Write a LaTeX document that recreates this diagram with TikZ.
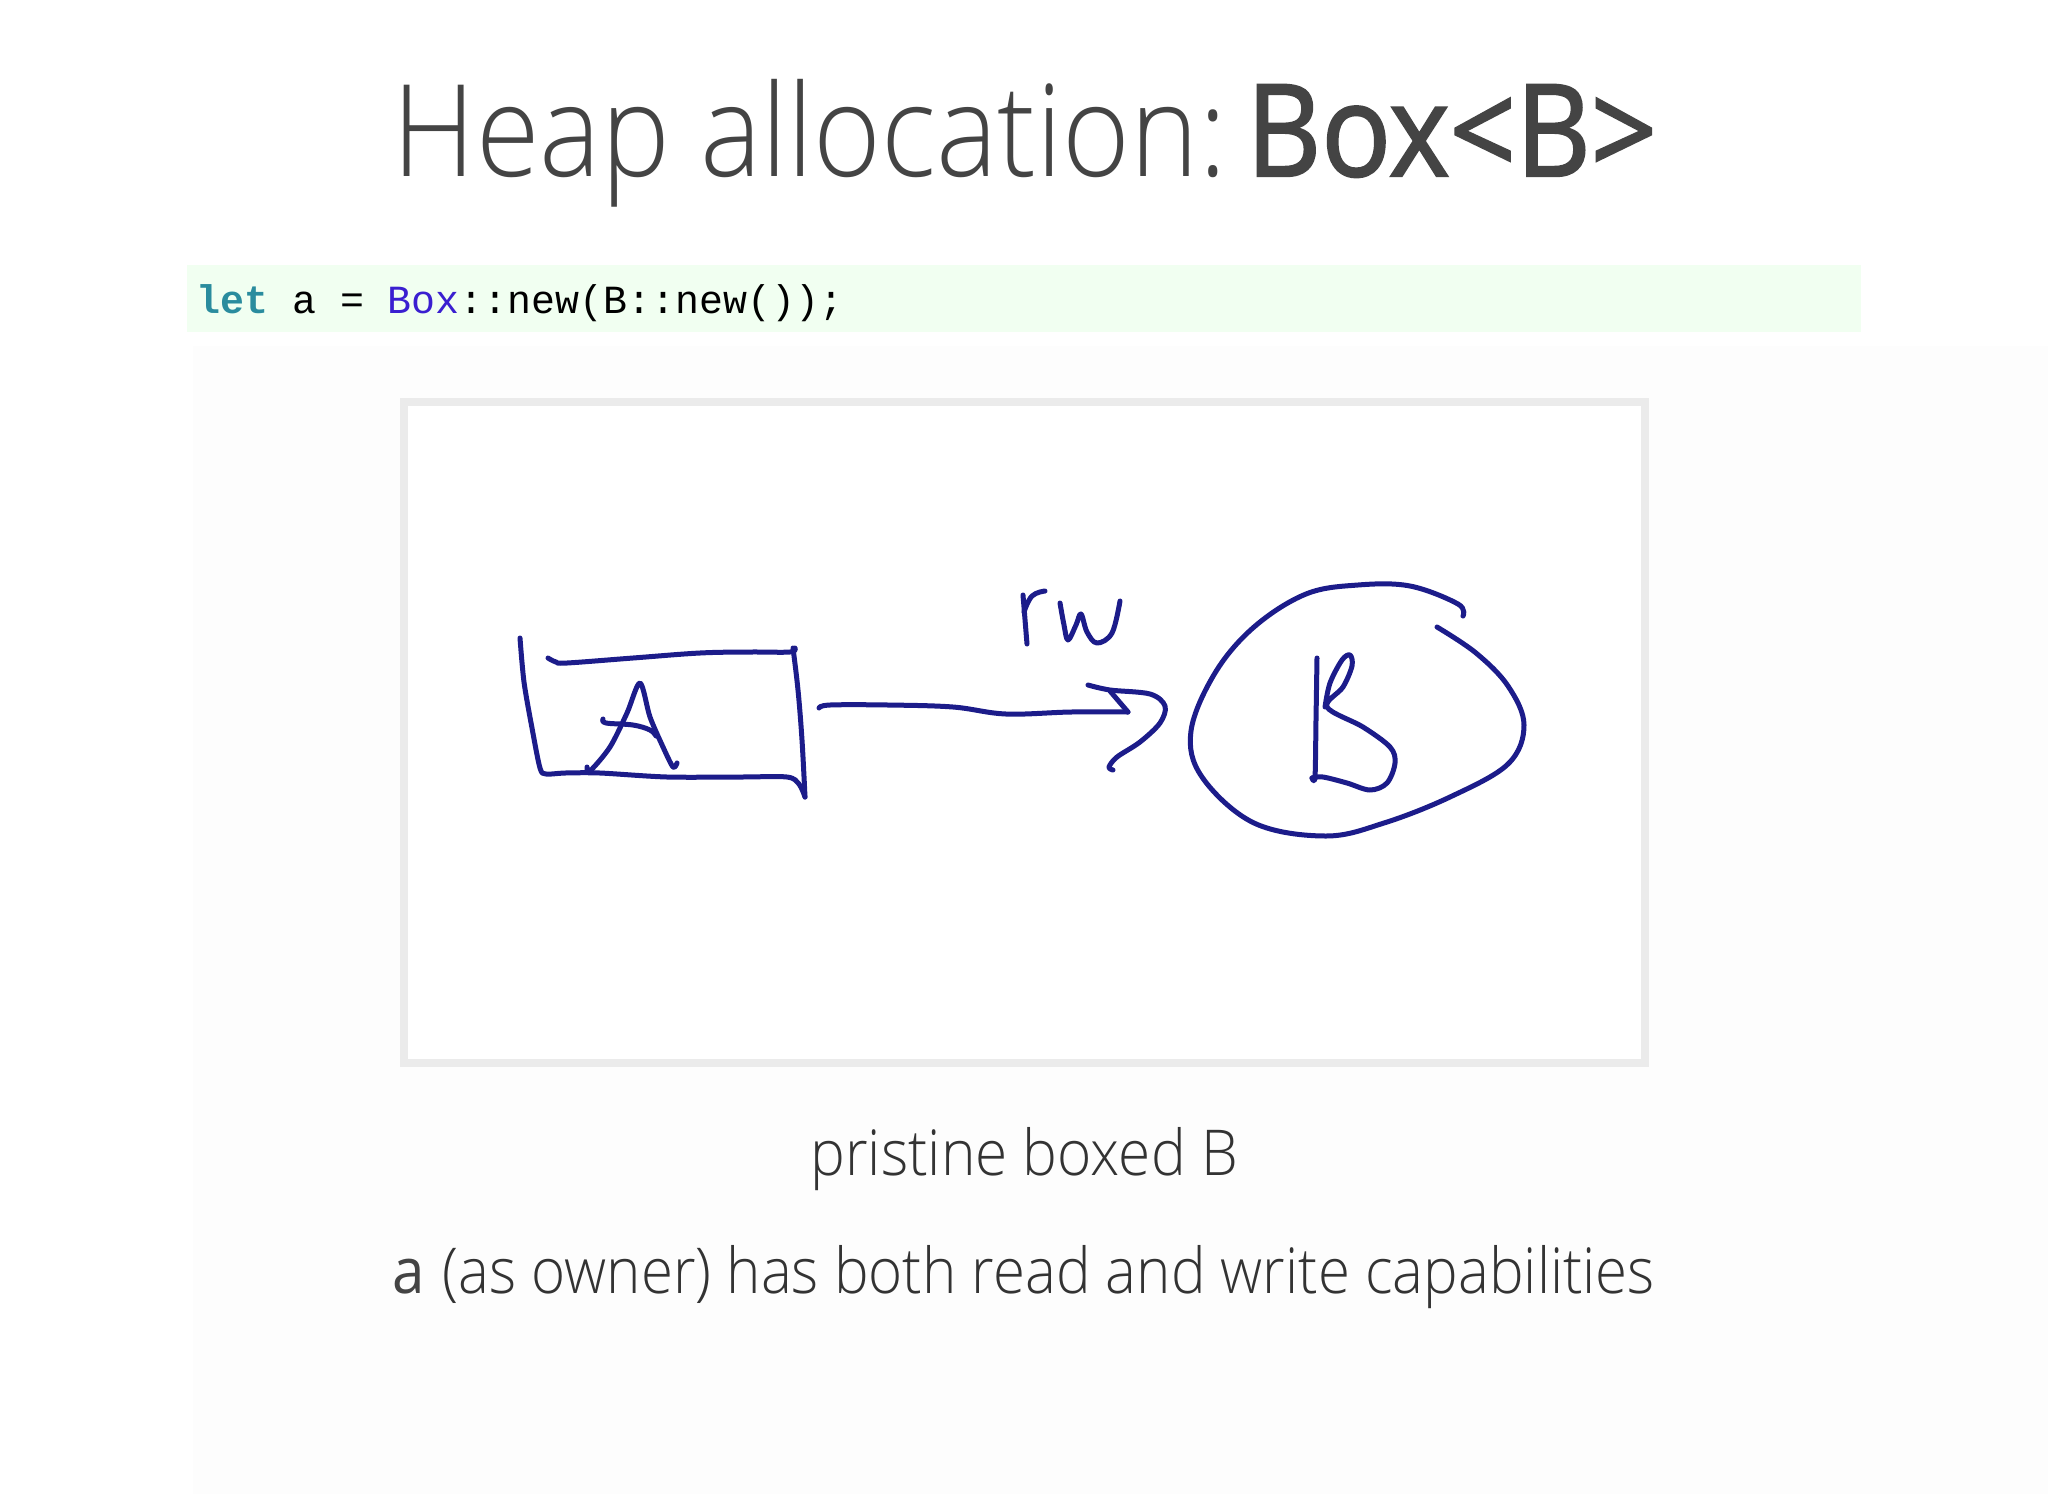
\documentclass[tikz,border=0pt]{standalone}
\usepackage{fontspec}
\newfontfamily\osl{Open Sans Light}
\newfontfamily\osr{Open Sans}
\newfontfamily\ossb{Open Sans}[FakeBold=1.8]
\setmonofont{Liberation Mono}
\definecolor{titlegray}{HTML}{444444}
\definecolor{textgray}{HTML}{333333}
\definecolor{codebg}{HTML}{F1FFF1}
\definecolor{pagebg}{HTML}{FDFDFD}
\definecolor{framegray}{HTML}{EBEBEB}
\definecolor{ink}{HTML}{1C1C8A}
\definecolor{kwteal}{HTML}{2A8C9E}
\definecolor{kwblue}{HTML}{3A1FD0}
\begin{document}
\begin{tikzpicture}[x=0.25mm,y=-0.25mm,
  pen/.style={draw=ink,line width=1.25mm,line cap=round,line join=round},
  txt/.style={inner sep=0,anchor=base}]
\useasboundingbox (0,0) rectangle (2048,1494);
\fill[white] (0,0) rectangle (2048,1494);
\fill[pagebg] (193,346) rectangle (2048,1494);
% code band
\fill[codebg] (187,265) rectangle (1861,332);
% frame
\fill[white] (401,398) rectangle (1648,1066);
\draw[framegray,line width=1.8mm] (404,402) rectangle (1645,1063);
% title
\node[txt,text=titlegray] (title) at (1025,176) {\scalebox{0.905}[1]{\fontsize{91}{100}\selectfont\osl Heap allocation:\hspace{0.17em}{\ossb Box<B>}}};
% code
\node[txt,anchor=base west,text=black] (code) at (196,313) {\fontsize{28.4}{32}\selectfont\ttfamily{\bfseries\color{kwteal}let} a = {\color{kwblue}Box}::new(B::new());};
% captions
\node[txt,text=textgray] (cap1) at (1024,1175) {\scalebox{0.925}[1]{\fontsize{45}{50}\selectfont\osl pristine boxed B}};
\node[txt,text=textgray] (cap2) at (1024,1293) {\scalebox{0.92}[1]{\fontsize{45}{50}\selectfont{\osr\color{titlegray}a} \osl(as owner) has both read and write capabilities}};
% ---- sketch ----
% box A: left side running into the bottom edge
\draw[pen] plot[smooth,tension=0.5] coordinates {(520,638) (524,682) (532,728) (540,768) (546,774) (565,773) (600,773) (667,777) (740,777) (787,777) (799,784) (805,797)};
% top edge
\draw[pen] plot[smooth,tension=0.6] coordinates {(548,658) (556,662) (567,663) (633,658) (700,653) (750,652) (790,652) (795,648)};
% right edge
\draw[pen] plot[smooth,tension=0.6] coordinates {(793,648) (798,690) (802,740) (805,797)};
% letter A
\draw[pen] plot[smooth,tension=0.5] coordinates {(587,767) (590,771) (610,747) (627,713) (640,683) (650,717) (663,747) (673,767) (677,763)};
\draw[pen] plot[smooth,tension=0.6] coordinates {(603,719) (606,723) (633,725) (650,730) (656,736)};
% arrow shaft (with the zig back to the head)
\draw[pen] plot[smooth,tension=0.6] coordinates {(819,708) (830,705) (888,705) (953,707) (1006,714) (1071,712) (1128,712)};
\draw[pen] (1128,712) -- (1110,691);
% arrow head
\draw[pen] plot[smooth,tension=0.55] coordinates {(1088,685) (1110,690) (1150,694) (1165,706) (1160,723) (1140,742) (1117,757) (1109,767) (1113,770)};
% rw
\draw[pen] (1023,595) -- (1027,644);
\draw[pen] plot[smooth,tension=0.7] coordinates {(1024,612) (1032,596) (1045,591)};
\draw[pen] plot[smooth,tension=0.6] coordinates {(1060,603) (1064,625) (1068,640) (1076,625) (1081,614) (1087,632) (1097,643) (1112,633) (1120,601)};
% circle B
\draw[pen] plot[smooth,tension=0.6] coordinates {(1463,616) (1458,604) (1410,586) (1358,585) (1306,594) (1254,627) (1215,673) (1191,731) (1202,777) (1254,823) (1326,836) (1384,823) (1450,797) (1508,764) (1524,725) (1508,686) (1476,653) (1437,627)};
% letter B
\draw[pen] plot[smooth,tension=0.5] coordinates {(1317,658) (1316,720) (1315,777) (1312,778)};
\draw[pen] plot[smooth,tension=0.55] coordinates {(1325,707) (1330,683) (1342,660) (1350,655) (1352,666) (1343,687) (1327,707) (1363,727) (1390,747) (1395,763) (1387,783) (1370,790) (1347,783) (1323,777) (1312,778)};
\end{tikzpicture}
\end{document}
